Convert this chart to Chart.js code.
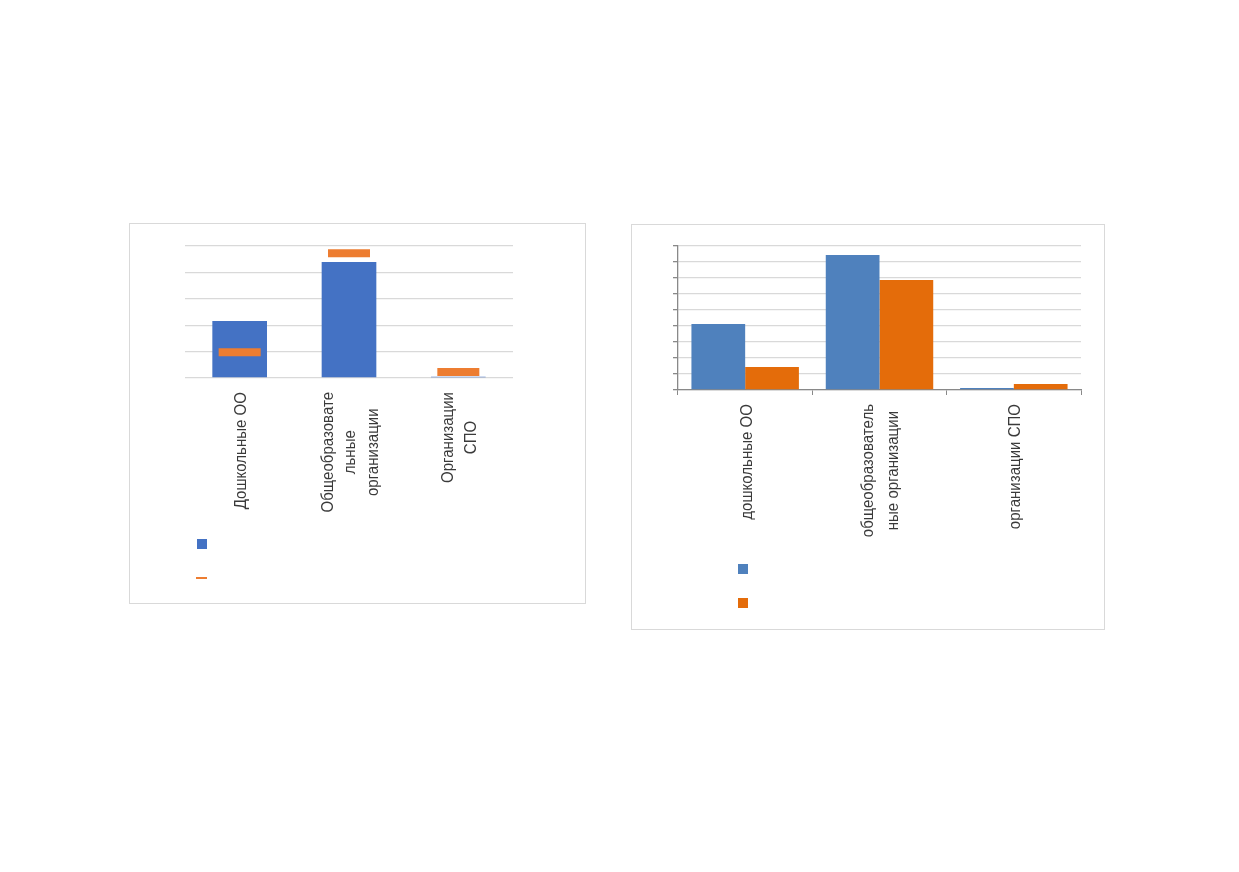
<!DOCTYPE html>
<html>
<head>
<meta charset="utf-8">
<script src="https://cdn.jsdelivr.net/npm/chart.js@4/dist/chart.umd.min.js"></script>
<style>
  body { margin: 0; background: #fff; width: 1239px; height: 872px; position: relative; overflow: hidden; }
  .box { position: absolute; box-sizing: border-box; border: 1px solid #d9d9d9; background: #fff; }
  .box canvas { position: absolute; left: 0; top: 0; }
  .mark { position: absolute; }
</style>
</head>
<body>
<div class="box" id="boxLeft" style="left:129px; top:223px; width:457px; height:381px;">
  <canvas id="chartLeft"></canvas>
</div>
<div class="box" id="boxRight" style="left:631px; top:224px; width:474px; height:406px;">
  <canvas id="chartRight"></canvas>
</div>
<script>
// left chart data
var leftCategories = [['Дошкольные ОО'], ['Общеобразовате', 'льные', 'организации'], ['Организации', 'СПО']]
var leftBars = [2.16, 4.39, 0.05]
var leftMarks = [0.98, 4.73, 0.23]
var leftMax = 5

// right chart data
var rightCategories = [['дошкольные ОО'], ['общеобразователь', 'ные организации'], ['организации СПО']]
var rightFirst = [4.13, 8.44, 0.12]
var rightSecond = [1.44, 6.88, 0.37]
var rightMax = 9

var COLORS = {
    leftBlue: '#4472C4',
    leftOrange: '#ED7D31',
    rightBlue: '#4F81BD',
    rightOrange: '#E46C0A',
    grid: '#d9d9d9',
    axis: '#898989'
}

// vertical, center-justified category labels (Excel style)
var vlabels = {
    id: 'vlabels',
    afterDraw: function (chart) {
        var o = chart.options.plugins.vlabels
        var scale = chart.scales.x
        var ctx = chart.ctx
        ctx.save()
        ctx.font = o.font
        ctx.fillStyle = o.color
        ctx.textBaseline = 'middle'
        ctx.textAlign = 'center'
        chart.data.labels.forEach(function (lines, i) {
            var px = scale.getPixelForValue(i) + o.shift
            var w = Math.max.apply(null, lines.map(function (l) { return ctx.measureText(l).width }))
            ctx.save()
            ctx.translate(px, chart.chartArea.bottom + o.gap)
            ctx.rotate(-Math.PI / 2)
            ctx.scale(o.stretch, 1)
            lines.forEach(function (line, j) {
                ctx.fillText(line, -w / 2, (j - (lines.length - 1) / 2) * o.lineHeight)
            })
            ctx.restore()
        })
        ctx.restore()
    }
}

function fixSize(id, w, h) {
    var c = document.getElementById(id)
    c.style.width = w + 'px'
    c.style.height = h + 'px'
    c.width = w
    c.height = h
}

fixSize('chartLeft', 455, 379)
fixSize('chartRight', 472, 404)

new Chart(document.getElementById('chartLeft'), {
    type: 'bar',
    data: {
        labels: leftCategories,
        datasets: [{
            type: 'line',
            data: leftMarks,
            showLine: false,
            pointStyle: 'line',
            pointRadius: 21,
            pointHoverRadius: 21,
            pointBorderWidth: 8,
            pointHoverBorderWidth: 8,
            borderColor: COLORS.leftOrange,
            backgroundColor: COLORS.leftOrange,
            order: 0
        }, {
            type: 'bar',
            data: leftBars,
            backgroundColor: COLORS.leftBlue,
            barPercentage: 0.5,
            categoryPercentage: 1,
            order: 1
        }]
    },
    options: {
        responsive: false,
        animation: false,
        layout: { autoPadding: false, padding: { left: 0, right: 72, top: 22, bottom: 0 } },
        plugins: {
            legend: { display: false },
            tooltip: { enabled: false },
            vlabels: { font: '16px "Liberation Sans", Arial, sans-serif', color: '#3a3a3a', gap: 14, lineHeight: 22.5, shift: 2, stretch: 0.94 }
        },
        scales: {
            x: {
                ticks: { display: false },
                grid: { display: false },
                border: { display: false },
                afterFit: function (s) { s.height = 225 }
            },
            y: {
                min: 0,
                max: leftMax,
                ticks: { display: false, stepSize: 1 },
                grid: { color: COLORS.grid, lineWidth: 1.3, drawTicks: false },
                border: { display: false },
                afterFit: function (s) { s.width = 55 }
            }
        }
    },
    plugins: [vlabels]
})

new Chart(document.getElementById('chartRight'), {
    type: 'bar',
    data: {
        labels: rightCategories,
        datasets: [{
            data: rightFirst,
            backgroundColor: COLORS.rightBlue
        }, {
            data: rightSecond,
            backgroundColor: COLORS.rightOrange
        }]
    },
    options: {
        responsive: false,
        animation: false,
        barPercentage: 1,
        categoryPercentage: 0.8,
        layout: { autoPadding: false, padding: { left: 0, right: 23, top: 21, bottom: 0 } },
        plugins: {
            legend: { display: false },
            tooltip: { enabled: false },
            vlabels: { font: '16px "Liberation Sans", Arial, sans-serif', color: '#3a3a3a', gap: 14, lineHeight: 25, shift: 2, stretch: 0.94 }
        },
        scales: {
            x: {
                ticks: { display: false },
                grid: { drawOnChartArea: false, drawTicks: true, tickLength: 5, color: COLORS.axis, offset: true },
                border: { display: true, color: COLORS.axis, width: 1.3 },
                afterFit: function (s) { s.height = 239 }
            },
            y: {
                min: 0,
                max: rightMax,
                ticks: { display: false, stepSize: 1 },
                grid: { color: COLORS.grid, tickColor: COLORS.axis, drawTicks: true, tickLength: 5, lineWidth: 1.3 },
                border: { display: true, color: COLORS.axis, width: 1.3 },
                afterFit: function (s) { s.width = 46 }
            }
        }
    },
    plugins: [vlabels]
})

// legends without text, as in the reference
function addMark(left, top, w, h, color) {
    var d = document.createElement('div')
    d.className = 'mark'
    d.style.cssText = `left:${left}px;top:${top}px;width:${w}px;height:${h}px;background:${color}`
    document.body.appendChild(d)
}
addMark(197, 539, 10, 10, COLORS.leftBlue)
addMark(196, 577, 11, 2, COLORS.leftOrange)
addMark(738, 564, 10, 10, COLORS.rightBlue)
addMark(738, 598, 10, 10, COLORS.rightOrange)
</script>
</body>
</html>
